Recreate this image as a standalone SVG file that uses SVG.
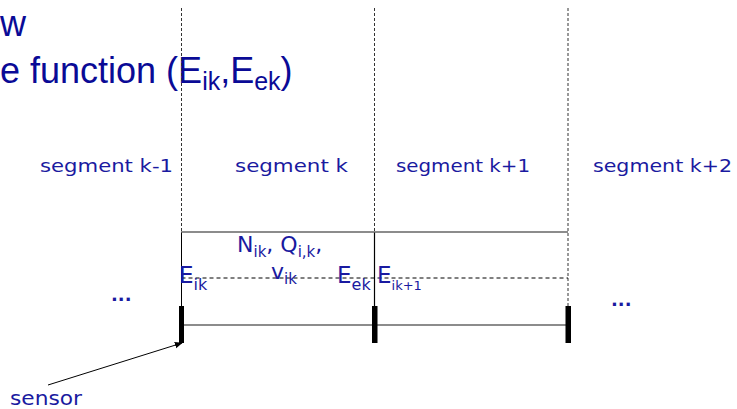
<svg xmlns="http://www.w3.org/2000/svg" width="737" height="409" viewBox="0 0 737 409">
<style>
.title{font-family:"Liberation Sans",Arial,sans-serif;fill:#0a0a96;}
.lbl{font-family:"DejaVu Sans","Noto Sans",sans-serif;fill:#1a1aa0;}
.guide{stroke:#333;stroke-width:1;stroke-dasharray:3,2;fill:none;}
.rail{stroke:#666;stroke-width:1.5;fill:none;}
.sensor{fill:#000;}
</style>
<defs>
<marker id="ah" viewBox="0 0 10 10" refX="9" refY="5" markerWidth="8" markerHeight="8" orient="auto" markerUnits="userSpaceOnUse">
<path d="M0,1 L10,5 L0,9 z" fill="#000"/>
</marker>
</defs>
<rect width="737" height="409" fill="#fff"/>
<g id="title">
<text class="title" x="0" y="36" font-size="36">w</text>
<text class="title" x="0" y="83" font-size="36">e function (E<tspan font-size="25" dy="7">ik</tspan><tspan dy="-7">,E</tspan><tspan font-size="25" dy="7">ek</tspan><tspan dy="-7">)</tspan></text>
</g>
<g id="connectors">
<line class="guide" x1="181.5" y1="8" x2="181.5" y2="232"/>
<line class="guide" x1="374.5" y1="8" x2="374.5" y2="232"/>
<line class="guide" x1="568" y1="8" x2="568" y2="306"/>
<line x1="181.5" y1="232" x2="181.5" y2="306" stroke="#000" stroke-width="1"/>
<line x1="374.5" y1="232" x2="374.5" y2="306" stroke="#000" stroke-width="1.2"/>
<line class="rail" x1="181" y1="232" x2="568" y2="232"/>
<line class="rail" x1="181" y1="325" x2="568" y2="325"/>
<line x1="181.5" y1="278" x2="568" y2="278" stroke="#000" stroke-width="1" stroke-dasharray="4,3"/>
<line x1="48" y1="385" x2="182" y2="343" stroke="#000" stroke-width="1" marker-end="url(#ah)"/>
</g>
<g id="sensor-1"><rect class="sensor" x="179" y="306" width="5" height="37"/></g>
<g id="sensor-2"><rect class="sensor" x="372" y="306" width="5.5" height="37"/></g>
<g id="sensor-3"><rect class="sensor" x="565.5" y="306" width="5.5" height="37"/></g>
<g id="segments">
<text class="lbl" x="40" y="172" font-size="17" textLength="133" lengthAdjust="spacingAndGlyphs">segment k-1</text>
<text class="lbl" x="235" y="172" font-size="17" textLength="113" lengthAdjust="spacingAndGlyphs">segment k</text>
<text class="lbl" x="396" y="172" font-size="17" textLength="134" lengthAdjust="spacingAndGlyphs">segment k+1</text>
<text class="lbl" x="593" y="172" font-size="17" textLength="139" lengthAdjust="spacingAndGlyphs">segment k+2</text>
</g>
<g id="labels">
<text class="lbl" x="237" y="252" font-size="22">N<tspan font-size="15" dy="5">ik</tspan><tspan dy="-5">, Q</tspan><tspan font-size="15" dy="5">i,k</tspan><tspan dy="-5">,</tspan></text>
<text class="lbl" x="271" y="279" font-size="22">v<tspan font-size="15" dy="5">ik</tspan></text>
<text class="lbl" x="179" y="283" font-size="23">E<tspan font-size="16" dy="7">ik</tspan></text>
<text class="lbl" x="337" y="283" font-size="23">E<tspan font-size="16" dy="7">ek</tspan></text>
<text class="lbl" x="377" y="283" font-size="23">E<tspan font-size="13" dy="7">ik+1</tspan></text>
<text class="lbl" x="111" y="301" font-size="18" font-weight="bold">...</text>
<text class="lbl" x="611" y="306" font-size="18" font-weight="bold">...</text>
<text class="lbl" x="10" y="405" font-size="20" textLength="72" lengthAdjust="spacingAndGlyphs">sensor</text>
</g>
</svg>
